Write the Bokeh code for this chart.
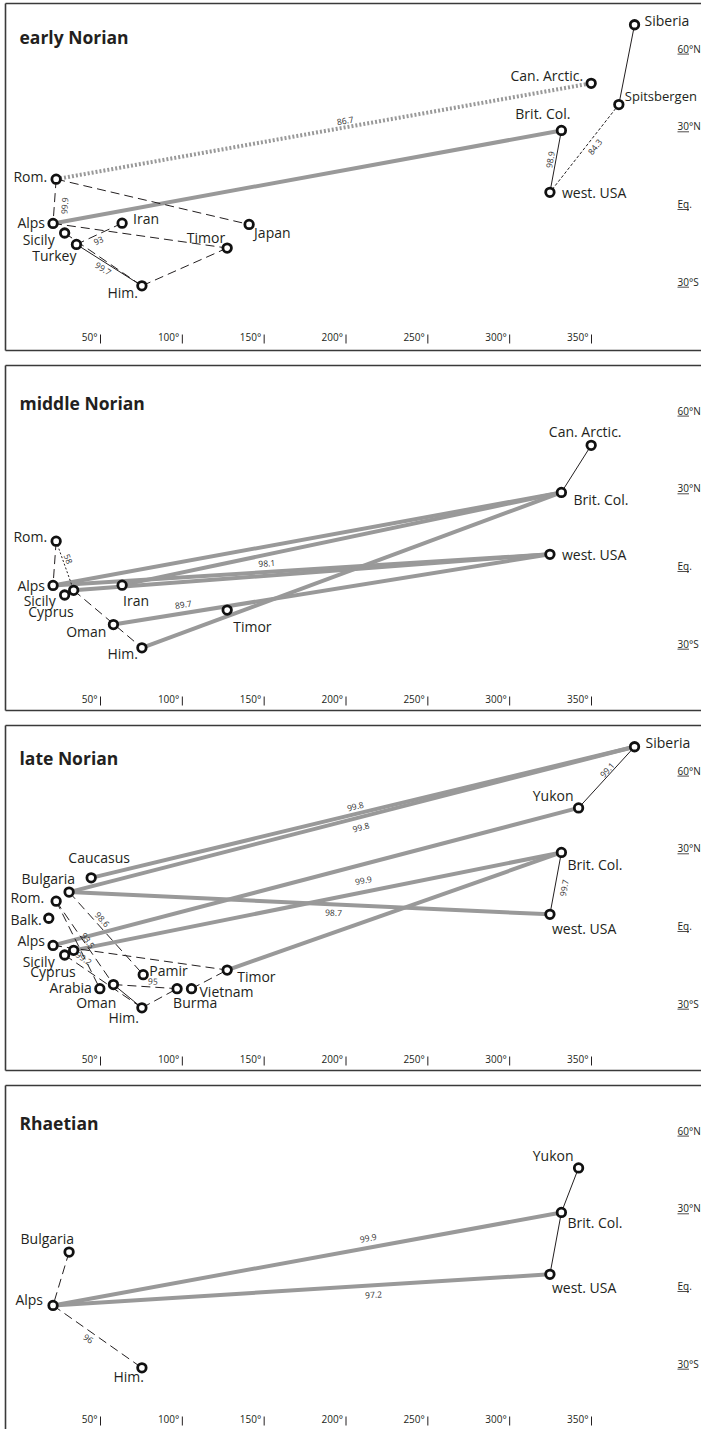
import math

from bokeh.core.properties import value
from bokeh.embed import file_html
from bokeh.layouts import column
from bokeh.models import ColumnDataSource, Range1d
from bokeh.plotting import figure
from bokeh.resources import INLINE

# ---------------------------------------------------------------------------
# Palaeo-positions of the sampled regions (longitude °E, latitude °)
# ---------------------------------------------------------------------------
site_names = ["Alps", "Rom.", "Sicily", "Turkey", "Cyprus", "Iran", "Japan",
              "Timor", "Him.", "Oman", "Arabia", "Pamir", "Burma", "Vietnam",
              "Caucasus", "Bulgaria", "Balk.", "Can. Arctic.", "Siberia",
              "Spitsbergen", "Yukon", "Brit. Col.", "west. USA"]
site_lon = [21.0, 22.9, 28.1, 35.3, 33.6, 63.2, 140.8,
            127.4, 75.3, 57.9, 49.6, 76.1, 96.8, 105.6,
            44.3, 30.8, 18.4, 349.8, 376.3,
            366.7, 342.1, 331.6, 324.6]
site_lat = [-7.5, 9.6, -11.2, -15.6, -9.4, -7.4, -7.9,
            -17.0, -31.6, -22.6, -24.2, -18.8, -24.2, -24.2,
            18.6, 13.1, 3.0, 46.6, 69.2,
            38.4, 45.6, 28.4, 4.5]

panel_titles = ["early Norian", "middle Norian", "late Norian", "Rhaetian"]

# links: (site A, site B, line style, similarity value or None)
early_sites = ["Rom.", "Alps", "Iran", "Japan", "Sicily", "Turkey", "Timor",
               "Him.", "Can. Arctic.", "Siberia", "Spitsbergen", "Brit. Col.",
               "west. USA"]
early_links = [
    ("Rom.", "Can. Arctic.", "gray_dotted", 86.7),
    ("Alps", "Brit. Col.", "gray", None),
    ("Rom.", "Alps", "dashed", 99.9),
    ("Rom.", "Japan", "dashed", None),
    ("Alps", "Timor", "dashed", None),
    ("Iran", "Turkey", "dashed", 93),
    ("Sicily", "Him.", "dashed", None),
    ("Turkey", "Him.", "solid", 99.7),
    ("Timor", "Him.", "dashed", None),
    ("Brit. Col.", "west. USA", "solid", 98.9),
    ("Spitsbergen", "west. USA", "fine", 84.3),
    ("Siberia", "Spitsbergen", "solid", None),
]

middle_sites = ["Rom.", "Alps", "Sicily", "Cyprus", "Iran", "Oman", "Him.",
                "Timor", "Can. Arctic.", "Brit. Col.", "west. USA"]
middle_links = [
    ("Alps", "Brit. Col.", "gray", None),
    ("Iran", "Brit. Col.", "gray", None),
    ("Alps", "west. USA", "gray", 98.1),
    ("Cyprus", "west. USA", "gray", None),
    ("Oman", "west. USA", "gray", 89.7),
    ("Him.", "Brit. Col.", "gray", None),
    ("Rom.", "Alps", "dashed", None),
    ("Rom.", "Cyprus", "dotted", 58),
    ("Cyprus", "Him.", "dashed", None),
    ("Can. Arctic.", "Brit. Col.", "solid", None),
]

late_sites = ["Caucasus", "Bulgaria", "Rom.", "Balk.", "Alps", "Sicily",
              "Cyprus", "Pamir", "Timor", "Arabia", "Oman", "Vietnam", "Burma",
              "Him.", "Siberia", "Yukon", "Brit. Col.", "west. USA"]
late_links = [
    ("Caucasus", "Siberia", "gray", 99.8),
    ("Bulgaria", "Siberia", "gray", 99.8),
    ("Bulgaria", "west. USA", "gray", 98.7),
    ("Alps", "Yukon", "gray", None),
    ("Cyprus", "Brit. Col.", "gray", 99.9),
    ("Timor", "Brit. Col.", "gray", None),
    ("Siberia", "Yukon", "solid", 99.1),
    ("Brit. Col.", "west. USA", "solid", 99.7),
    ("Bulgaria", "Pamir", "dashed", 98.6),
    ("Rom.", "Oman", "dashed", 93.5),
    ("Rom.", "Arabia", "dashed", None),
    ("Sicily", "Him.", "dashed", 99.2),
    ("Oman", "Him.", "solid", None),
    ("Alps", "Timor", "dashed", None),
    ("Oman", "Burma", "dashed", 95),
    ("Him.", "Burma", "dashed", None),
    ("Vietnam", "Timor", "dashed", None),
]

rhaetian_sites = ["Bulgaria", "Alps", "Him.", "Yukon", "Brit. Col.", "west. USA"]
rhaetian_links = [
    ("Alps", "Brit. Col.", "gray", 99.9),
    ("Alps", "west. USA", "gray", 97.2),
    ("Bulgaria", "Alps", "dashed", None),
    ("Alps", "Him.", "dashed", 96),
    ("Yukon", "Brit. Col.", "solid", None),
    ("Brit. Col.", "west. USA", "solid", None),
]

lon_ticks = [50, 100, 150, 200, 250, 300, 350]
lat_ticks = [60, 30, 0, -30]
lat_tick_labels = [("60", "°N"), ("30", "°N"), ("Eq", "."), ("30", "°S")]

# ---------------------------------------------------------------------------
# Layout: label placements and map scaling
# ---------------------------------------------------------------------------
# place-name placement: name -> (align, x offset px, y offset px)
early_place = {
    "Rom.": ("right", -9, -3), "Alps": ("right", -8, -1),
    "Iran": ("left", 11, -5), "Japan": ("left", 5, 8),
    "Sicily": ("right", -10, 6), "Turkey": ("right", 0, 11),
    "Timor": ("right", -2, -11), "Him.": ("right", -4, 7),
    "Can. Arctic.": ("right", -8, -8), "Siberia": ("left", 10, -4),
    "Spitsbergen": ("left", 6, -9), "Brit. Col.": ("right", 9, -17),
    "west. USA": ("left", 12, 0),
}
middle_place = {
    "Rom.": ("right", -9, -5), "Alps": ("right", -8, 0),
    "Sicily": ("right", -9, 5), "Cyprus": ("right", 0, 21),
    "Iran": ("left", 1, 15), "Oman": ("right", -7, 7),
    "Him.": ("right", -4, 6), "Timor": ("left", 6, 16),
    "Can. Arctic.": ("center", -6, -14), "Brit. Col.": ("left", 12, 7),
    "west. USA": ("left", 12, 0),
}
late_place = {
    "Caucasus": ("center", 8, -20), "Bulgaria": ("right", 6, -14),
    "Rom.": ("right", -12, -4), "Balk.": ("right", -7, 1),
    "Alps": ("right", -8, -5), "Sicily": ("right", -10, 6),
    "Cyprus": ("right", 2, 21), "Pamir": ("left", 6, -4),
    "Timor": ("left", 10, 6), "Arabia": ("right", -8, -1),
    "Oman": ("right", 3, 18), "Vietnam": ("left", 8, 3),
    "Burma": ("left", -4, 14), "Him.": ("right", -3, 10),
    "Siberia": ("left", 11, -4), "Yukon": ("right", -5, -12),
    "Brit. Col.": ("left", 6, 12), "west. USA": ("left", 2, 14),
}
rhaetian_place = {
    "Bulgaria": ("right", 5, -14), "Alps": ("right", -10, -6),
    "Him.": ("right", 2, 9), "Yukon": ("right", -5, -12),
    "Brit. Col.": ("left", 6, 10), "west. USA": ("left", 2, 13),
}
# names set a touch smaller so they stay inside the right edge
narrow_names = {"Spitsbergen"}

# similarity-value placement: (A, B) -> (fraction along link, x off, y off)
early_vpos = {
    ("Rom.", "Can. Arctic."): (0.54, 0, -7), ("Rom.", "Alps"): (0.6, 10, 0),
    ("Iran", "Turkey"): (0.52, 0, 6), ("Turkey", "Him."): (0.41, 0, 7),
    ("Brit. Col.", "west. USA"): (0.47, -6, 0),
    ("Spitsbergen", "west. USA"): (0.48, 9, 0),
}
middle_vpos = {
    ("Rom.", "Cyprus"): (0.36, 6, 0), ("Alps", "west. USA"): (0.43, 0, -9),
    ("Oman", "west. USA"): (0.16, 0, -9),
}
late_vpos = {
    ("Caucasus", "Siberia"): (0.486, 0, -8),
    ("Bulgaria", "Siberia"): (0.516, 0, 10),
    ("Bulgaria", "west. USA"): (0.55, 0, 8),
    ("Cyprus", "Brit. Col."): (0.594, 0, -12),
    ("Siberia", "Yukon"): (0.49, 0, -7),
    ("Brit. Col.", "west. USA"): (0.57, 9, 0),
    ("Bulgaria", "Pamir"): (0.45, 0, -10), ("Rom.", "Oman"): (0.47, 5, 0),
    ("Sicily", "Him."): (0.25, 0, -10), ("Oman", "Burma"): (0.62, 0, -6),
}
rhaetian_vpos = {
    ("Alps", "Brit. Col."): (0.62, 0, -10),
    ("Alps", "west. USA"): (0.645, 0, 9), ("Alps", "Him."): (0.4, 0, 8),
}

W = 701
HEIGHTS = [362, 360, 360, 347]
TITLE_CY = [36, 40, 35, 40]        # title centre, px from panel top
KX = 491.0 / 300.0                 # px per degree longitude
KY = 2.59                          # px per degree latitude
X0_PX = 100.0 - 50.0 * KX          # px position of 0°
EQ_PX = 203.5                      # px position of the equator
FONT = value("Open Sans")
INK = "#231f20"

STYLES = {
    "gray": dict(line_color="#999999", line_width=4),
    "gray_dotted": dict(line_color="#999999", line_width=4, line_dash="2 2"),
    "solid": dict(line_color=INK, line_width=1),
    "dashed": dict(line_color=INK, line_width=1, line_dash="9 5"),
    "fine": dict(line_color=INK, line_width=1, line_dash="3 2"),
    "dotted": dict(line_color=INK, line_width=1, line_dash="2 2"),
}

POS = {n: (x, y) for n, x, y in zip(site_names, site_lon, site_lat)}


def lon_at(px):
    return (px - X0_PX) / KX


def lat_at(py):
    return (EQ_PX - py) / KY


def make_panel(title, sites, links, place, vpos, height, title_cy, bottom_px):
    p = figure(width=W, height=height, title=None,
               x_range=Range1d(lon_at(0), lon_at(W)),
               y_range=Range1d(lat_at(height), lat_at(0)),
               output_backend="svg", toolbar_location=None,
               x_axis_location=None, y_axis_location=None,
               min_border=0, min_border_left=0, min_border_right=0,
               min_border_top=0, min_border_bottom=0)
    p.grid.visible = False
    p.outline_line_color = None
    p.background_fill_color = "white"
    p.border_fill_color = "white"

    # panel frame (left, top, bottom)
    frame_x = lon_at(5)
    frame_top = lat_at(3)
    frame_bot = lat_at(bottom_px) if bottom_px is not None else lat_at(height + 5)
    p.segment(x0=[frame_x, frame_x], y0=[frame_bot, frame_top],
              x1=[frame_x, lon_at(W + 5)], y1=[frame_top, frame_top],
              line_color="#3a3a3a", line_width=1.6)
    if bottom_px is not None:
        p.segment(x0=[frame_x], y0=[frame_bot], x1=[lon_at(W + 5)], y1=[frame_bot],
                  line_color="#3a3a3a", line_width=1.6)

    # similarity links
    for style in ["gray", "gray_dotted", "solid", "dashed", "fine", "dotted"]:
        rows = [l for l in links if l[2] == style]
        if not rows:
            continue
        src = ColumnDataSource(dict(
            x0=[POS[a][0] for a, b, s, v in rows],
            y0=[POS[a][1] for a, b, s, v in rows],
            x1=[POS[b][0] for a, b, s, v in rows],
            y1=[POS[b][1] for a, b, s, v in rows]))
        p.segment("x0", "y0", "x1", "y1", source=src, line_cap="butt",
                  **STYLES[style])

    # similarity values written along the links
    vx, vy, vt, va, vox, voy = [], [], [], [], [], []
    for a, b, s, v in links:
        if v is None:
            continue
        t, ox, oy = vpos[(a, b)]
        (xa, ya), (xb, yb) = POS[a], POS[b]
        vx.append(xa + t * (xb - xa))
        vy.append(ya + t * (yb - ya))
        ang = math.atan2((yb - ya) * KY, (xb - xa) * KX)
        if ang > math.pi / 2:
            ang -= math.pi
        elif ang < -math.pi / 2:
            ang += math.pi
        va.append(ang)
        vt.append(f"{v:g}")
        vox.append(ox)
        voy.append(oy)
    if vx:
        p.text(x=vx, y=vy, text=vt, angle=va, x_offset=vox, y_offset=voy,
               text_align="center", text_baseline="middle", text_font=FONT,
               text_font_size="8.5px", text_color="#333333")

    # sites
    p.scatter(x=[POS[n][0] for n in sites], y=[POS[n][1] for n in sites],
              marker="circle", size=8.5, fill_color="white",
              line_color="#111111", line_width=2.8)

    # site names
    for align in ["left", "right", "center"]:
        for narrow in (False, True):
            names = [n for n in sites
                     if place[n][0] == align and (n in narrow_names) == narrow]
            if not names:
                continue
            p.text(x=[POS[n][0] for n in names], y=[POS[n][1] for n in names],
                   text=names, x_offset=[place[n][1] for n in names],
                   y_offset=[place[n][2] for n in names],
                   text_align=align, text_baseline="middle", text_font=FONT,
                   text_font_size="13px" if narrow else "14px",
                   text_color=INK)

    # panel title
    p.text(x=[lon_at(19)], y=[lat_at(title_cy)], text=[title],
           text_align="left", text_baseline="middle", text_font=FONT,
           text_font_size="17.5px", text_font_style="bold", text_color=INK)

    # longitude ticks along the bottom
    p.text(x=lon_ticks, y=[lat_at(336)] * len(lon_ticks),
           text=[f"{t}°" for t in lon_ticks], x_offset=-3,
           text_align="right", text_baseline="middle", text_font=FONT,
           text_font_size="10px", text_color=INK)
    p.segment(x0=lon_ticks, y0=[lat_at(334)] * len(lon_ticks),
              x1=lon_ticks, y1=[lat_at(343)] * len(lon_ticks),
              line_color=INK, line_width=1)

    # latitude labels on the right, numbers underlined
    lat_x = lon_at(677)
    p.text(x=[lat_x] * len(lat_ticks), y=lat_ticks,
           text=[a + b for a, b in lat_tick_labels],
           text_align="left", text_baseline="middle", text_font=FONT,
           text_font_size="10px", text_color=INK)
    p.segment(x0=[lat_x] * len(lat_ticks), y0=[t - 5.5 / KY for t in lat_ticks],
              x1=[lat_x + 11.5 / KX] * len(lat_ticks),
              y1=[t - 5.5 / KY for t in lat_ticks],
              line_color=INK, line_width=0.8)
    return p


panels = [
    (early_sites, early_links, early_place, early_vpos, 350),
    (middle_sites, middle_links, middle_place, middle_vpos, 348),
    (late_sites, late_links, late_place, late_vpos, 348),
    (rhaetian_sites, rhaetian_links, rhaetian_place, rhaetian_vpos, None),
]

figs = []
for i, (sites, links, place, vpos, bottom) in enumerate(panels):
    figs.append(make_panel(panel_titles[i], sites, links, place, vpos,
                           HEIGHTS[i], TITLE_CY[i], bottom))

layout = column(*figs, spacing=0)
open("out.html", "w").write(file_html(layout, INLINE, title="Norian–Rhaetian"))
